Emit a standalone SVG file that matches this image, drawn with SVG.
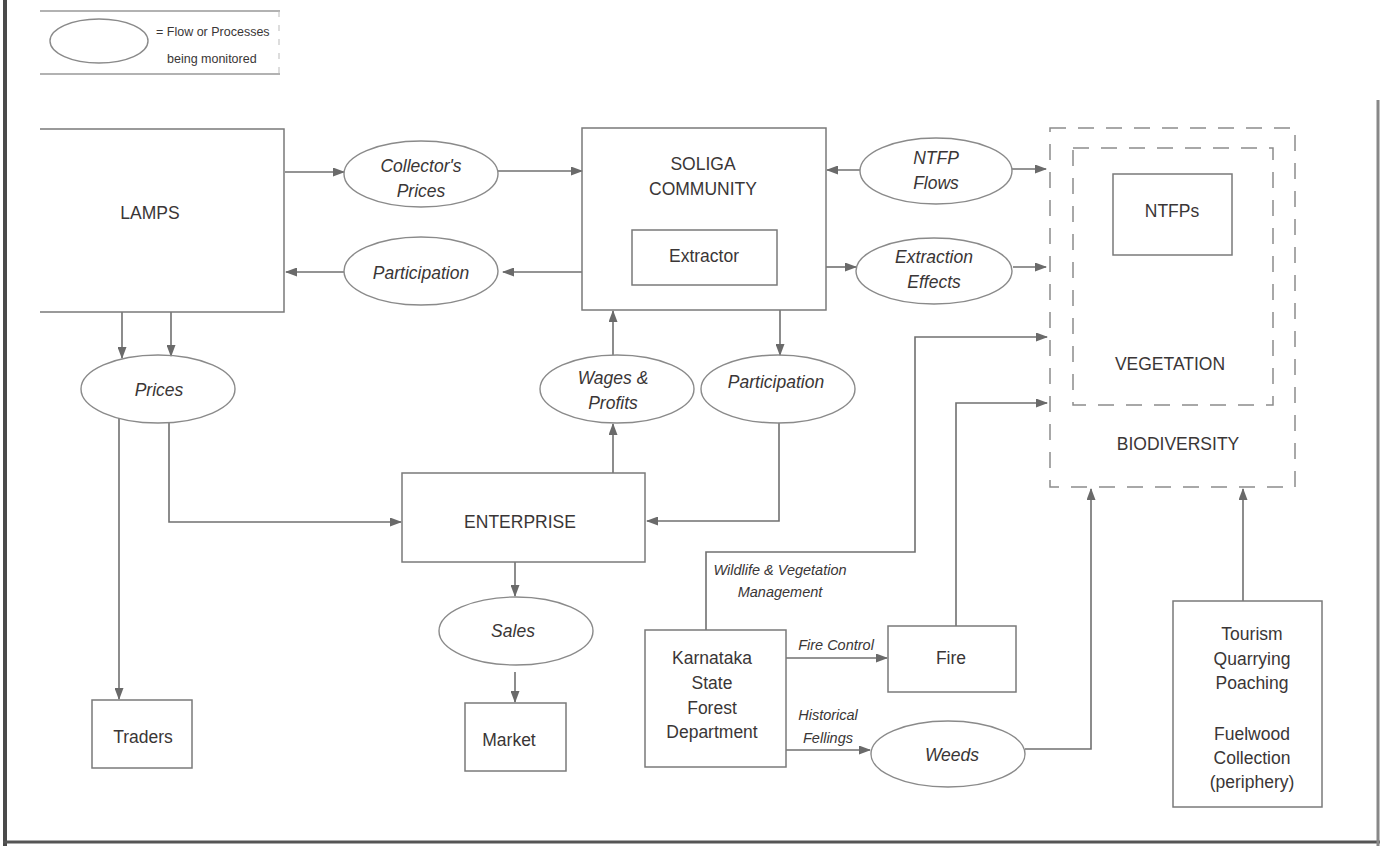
<svg xmlns="http://www.w3.org/2000/svg" width="1386" height="848" viewBox="0 0 1386 848">
<defs>
<marker id="ah" markerWidth="12" markerHeight="9" refX="11" refY="4.5" orient="auto" markerUnits="userSpaceOnUse">
<path d="M0,0 L12,4.5 L0,9 z" fill="#6a6a6a"/>
</marker>
<style>
.t{font-family:"Liberation Sans",Arial,sans-serif;font-size:17.5px;fill:#3a3636;text-anchor:middle}
.i{font-style:italic}
.s{font-size:14.5px}
.box{fill:none;stroke:#7a7a7a;stroke-width:1.5}
.ell{fill:none;stroke:#8a8a8a;stroke-width:1.4}
.dash{fill:none;stroke:#8c8c8c;stroke-width:1.5;stroke-dasharray:16 12}
.c{fill:none;stroke:#707070;stroke-width:1.6;marker-end:url(#ah)}
.frame{stroke-linecap:butt}
</style>
</defs>
<rect width="1386" height="848" fill="#ffffff"/>
<g id="frame" class="frame">
<line x1="5" y1="0" x2="5" y2="846" stroke="#4a4a4a" stroke-width="4"/>
<line x1="3" y1="842" x2="1380" y2="842" stroke="#555" stroke-width="3"/>
<line x1="1378" y1="100" x2="1378" y2="846" stroke="#888" stroke-width="3"/>
</g>
<g id="legend">
<line x1="40" y1="11" x2="280" y2="11" stroke="#999" stroke-width="1.3"/>
<line x1="40" y1="74" x2="280" y2="74" stroke="#999" stroke-width="1.3"/>
<line x1="279" y1="11" x2="279" y2="74" stroke="#bbb" stroke-width="1" stroke-dasharray="6 8"/>
<ellipse class="ell" cx="99" cy="41" rx="49" ry="22"/>
<text class="t" style="font-size:12.5px;text-anchor:start" x="156" y="36">= Flow or Processes</text>
<text class="t" style="font-size:12.5px;text-anchor:start" x="167" y="63">being monitored</text>
</g>
<g id="connectors">
<path class="c" d="M285,172 H344"/>
<path class="c" d="M498,171 H582"/>
<path class="c" d="M582,272 H503"/>
<path class="c" d="M344,272 H286"/>
<path class="c" d="M860,170 H827"/>
<path class="c" d="M1012,169 H1046"/>
<path class="c" d="M826,267 H856"/>
<path class="c" d="M1013,267 H1046"/>
<path class="c" d="M122,312 V358"/>
<path class="c" d="M171,312 V356"/>
<path class="c" d="M119,418 V699"/>
<path class="c" d="M169,423 V522 H401"/>
<path class="c" d="M613,473 V424"/>
<path class="c" d="M613,355 V311"/>
<path class="c" d="M780,310 V355"/>
<path class="c" d="M779,423 V521 H647"/>
<path class="c" d="M515,562 V596"/>
<path class="c" d="M515,672 V702"/>
<path class="c" d="M706,630 V552 H915 V337 H1047"/>
<path class="c" d="M786,658 H887"/>
<path class="c" d="M786,750 H870"/>
<path class="c" d="M956,626 V403 H1047"/>
<path class="c" d="M1025,749 H1091 V489"/>
<path class="c" d="M1243,601 V489"/>
</g>
<g id="lamps">
<path class="box" d="M40,129 H284 V312 H40"/>
<text class="t" x="150" y="219">LAMPS</text>
</g>
<g id="collectors-prices">
<ellipse class="ell" cx="421" cy="174" rx="77" ry="33"/>
<text class="t i" x="421" y="172">Collector's</text>
<text class="t i" x="421" y="197">Prices</text>
</g>
<g id="participation-top">
<ellipse class="ell" cx="421" cy="271" rx="77" ry="34"/>
<text class="t i" x="421" y="279">Participation</text>
</g>
<g id="soliga">
<rect class="box" x="582" y="128" width="244" height="182"/>
<text class="t" x="703" y="170">SOLIGA</text>
<text class="t" x="703" y="195">COMMUNITY</text>
</g>
<g id="extractor">
<rect class="box" x="632" y="230" width="145" height="55"/>
<text class="t" x="704" y="262">Extractor</text>
</g>
<g id="ntfp-flows">
<ellipse class="ell" cx="936" cy="171" rx="76" ry="33"/>
<text class="t i" x="936" y="164">NTFP</text>
<text class="t i" x="936" y="189">Flows</text>
</g>
<g id="extraction-effects">
<ellipse class="ell" cx="934" cy="271" rx="78" ry="33"/>
<text class="t i" x="934" y="263">Extraction</text>
<text class="t i" x="934" y="288">Effects</text>
</g>
<g id="biodiversity">
<rect class="dash" x="1050" y="128" width="245" height="359"/>
<text class="t" x="1178" y="450">BIODIVERSITY</text>
</g>
<g id="vegetation">
<rect class="dash" x="1073" y="148" width="200" height="257"/>
<text class="t" x="1170" y="370">VEGETATION</text>
</g>
<g id="ntfps">
<rect class="box" x="1113" y="174" width="119" height="81"/>
<text class="t" x="1172" y="217">NTFPs</text>
</g>
<g id="prices">
<ellipse class="ell" cx="158" cy="389" rx="77" ry="34"/>
<text class="t i" x="159" y="396">Prices</text>
</g>
<g id="wages-profits">
<ellipse class="ell" cx="617" cy="389" rx="77" ry="34"/>
<text class="t i" x="613" y="384">Wages &amp;</text>
<text class="t i" x="613" y="409">Profits</text>
</g>
<g id="participation-bottom">
<ellipse class="ell" cx="778" cy="389" rx="77" ry="34"/>
<text class="t i" x="776" y="388">Participation</text>
</g>
<g id="enterprise">
<rect class="box" x="402" y="473" width="243" height="89"/>
<text class="t" x="520" y="528">ENTERPRISE</text>
</g>
<g id="sales">
<ellipse class="ell" cx="516" cy="631" rx="77" ry="34"/>
<text class="t i" x="513" y="637">Sales</text>
</g>
<g id="market">
<rect class="box" x="465" y="703" width="101" height="68"/>
<text class="t" x="509" y="746">Market</text>
</g>
<g id="traders">
<rect class="box" x="92" y="700" width="100" height="68"/>
<text class="t" x="143" y="743">Traders</text>
</g>
<g id="karnataka">
<rect class="box" x="645" y="630" width="141" height="137"/>
<text class="t" x="712" y="664">Karnataka</text>
<text class="t" x="712" y="689">State</text>
<text class="t" x="712" y="714">Forest</text>
<text class="t" x="712" y="738">Department</text>
</g>
<g id="labels">
<text class="t i s" x="780" y="575">Wildlife &amp; Vegetation</text>
<text class="t i s" x="780" y="597">Management</text>
<text class="t i s" x="836" y="650">Fire Control</text>
<text class="t i s" x="828" y="720">Historical</text>
<text class="t i s" x="828" y="743">Fellings</text>
</g>
<g id="fire">
<rect class="box" x="888" y="626" width="128" height="66"/>
<text class="t" x="951" y="664">Fire</text>
</g>
<g id="weeds">
<ellipse class="ell" cx="948" cy="754" rx="77" ry="33"/>
<text class="t i" x="952" y="761">Weeds</text>
</g>
<g id="pressures">
<rect class="box" x="1173" y="601" width="149" height="206"/>
<text class="t" x="1252" y="640">Tourism</text>
<text class="t" x="1252" y="665">Quarrying</text>
<text class="t" x="1252" y="689">Poaching</text>
<text class="t" x="1252" y="740">Fuelwood</text>
<text class="t" x="1252" y="764">Collection</text>
<text class="t" x="1252" y="788">(periphery)</text>
</g>
</svg>
